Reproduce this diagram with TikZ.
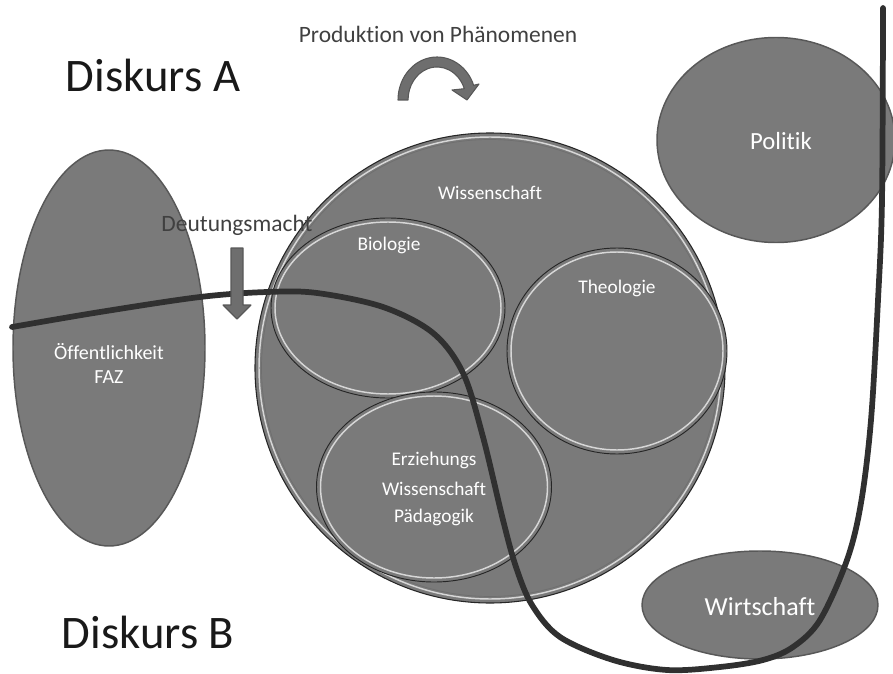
\documentclass[tikz,border=0pt]{standalone}
\usepackage{fontspec}
\setmainfont[Ligatures=NoCommon]{Carlito}
\usetikzlibrary{shapes.geometric}
\definecolor{shapegray}{RGB}{122,122,122}
\definecolor{edgegray}{RGB}{88,88,88}
\definecolor{curvegray}{RGB}{48,48,48}
\definecolor{textdark}{RGB}{64,64,64}
\begin{document}
\begin{tikzpicture}[x=0.75pt,y=-0.75pt,
  plainell/.style={ellipse, inner sep=0pt, fill=shapegray, draw=edgegray, line width=1.1pt},
  bevell/.style={ellipse, inner sep=0pt, fill=shapegray, draw=black!85, line width=0.7pt},
  shine/.style={draw=white, line width=1.1pt, opacity=0.7},
  whitelabel/.style={text=white, font=\fontsize{14.5}{17}\selectfont, inner sep=0pt},
  sidelabel/.style={text=white, font=\fontsize{15}{18}\selectfont, inner sep=0pt, align=center},
  biglabel/.style={text=black!90, font=\fontsize{35}{42}\selectfont, inner sep=0pt},
  midlabel/.style={text=textdark, font=\fontsize{17.6}{21}\selectfont, inner sep=0pt},
  thickcurve/.style={draw=curvegray, line width=4.3pt, line cap=round, line join=round},
  fatarrow/.style={fill=shapegray!90!black, draw=edgegray, line width=0.8pt, line join=round}
]
\useasboundingbox (0,0) rectangle (893,674);

% Oeffentlichkeit
\node[plainell, minimum width=144pt, minimum height=297pt] (oeff) at (109,348) {};
\node[sidelabel] (oefft) at (109,363) {Öffentlichkeit\\FAZ};

% Wissenschaft circle
\node[circle, inner sep=0pt, fill=shapegray, draw=black!85, line width=0.8pt, minimum size=352.5pt] (wiss) at (490,368) {};
\draw[shine] (wiss.center) circle[radius=231];
\draw[draw=black!60, line width=0.5pt, opacity=0.6] (wiss.center) circle[radius=228.5];
\node[whitelabel] (wisst) at (490,193) {Wissenschaft};

% Biologie
\node[bevell, minimum width=175.5pt, minimum height=135pt] (bio) at (388,308) {};
\draw[shine] (bio.center) ellipse[x radius=113, y radius=86];
\node[whitelabel] (biot) at (389,245) {Biologie};

% Theologie
\node[bevell, minimum width=165pt, minimum height=154.5pt] (theo) at (617,351) {};
\draw[shine] (theo.center) ellipse[x radius=106, y radius=99];
\node[whitelabel] (theot) at (617,288) {Theologie};

% Erziehungswissenschaft
\node[bevell, minimum width=176.25pt, minimum height=142.5pt] (erz) at (434,487) {};
\draw[shine] (erz.center) ellipse[x radius=113.5, y radius=91];
\node[whitelabel] (erz1) at (434,460) {Erziehungs};
\node[whitelabel] (erz2) at (434,489) {Wissenschaft};
\node[whitelabel] (erz3) at (434,517) {Pädagogik};

% Politik
\node[plainell, minimum width=178.5pt, minimum height=153.75pt] (pol) at (776,140) {};
\node[text=white, font=\fontsize{18.5}{22}\selectfont, inner sep=0pt] (polt) at (781,141) {Politik};

% Wirtschaft
\node[plainell, minimum width=177pt, minimum height=81pt] (wirt) at (760,605) {};
\node[text=white, font=\fontsize{19.5}{23}\selectfont, inner sep=0pt] (wirtt) at (760,607) {Wirtschaft};

% Diskurs labels
\node[biglabel] (da) at (153,75) {Diskurs A};
\node[biglabel] (db) at (148,632) {Diskurs B};

% Production arrow
\node[midlabel] (prod) at (438,34) {Produktion von Phänomenen};
\fill[fatarrow] (398,100) arc[start angle=180, end angle=340, x radius=39, y radius=43]
  -- (479,84) -- (467,100) -- (452,90) -- (464.3,88.7)
  arc[start angle=340, end angle=180, x radius=29, y radius=33] -- cycle;

% Discourse boundary curve
\coordinate (cstart) at (12,327);
\coordinate (cend) at (883,8);
\draw[thickcurve] plot[smooth, tension=0.55] coordinates {
  (12,327) (100,312) (200,297) (267,292) (317,293) (383,307) (433,333)
  (463,373) (483,437) (503,520) (516,567) (532,605) (560,637) (613,660)
  (667,670) (720,667) (763,660) (793,647) (820,620) (847,560) (861,503)
  (871,420) (878,300) (882,200) (883,8)};

% Deutungsmacht
\node[midlabel] (deut) at (237,225) {Deutungsmacht};
\fill[fatarrow] (231,248) -- (243,248) -- (243,305) -- (251,305) -- (237,319)
  -- (223,305) -- (231,305) -- cycle;
\end{tikzpicture}
\end{document}
